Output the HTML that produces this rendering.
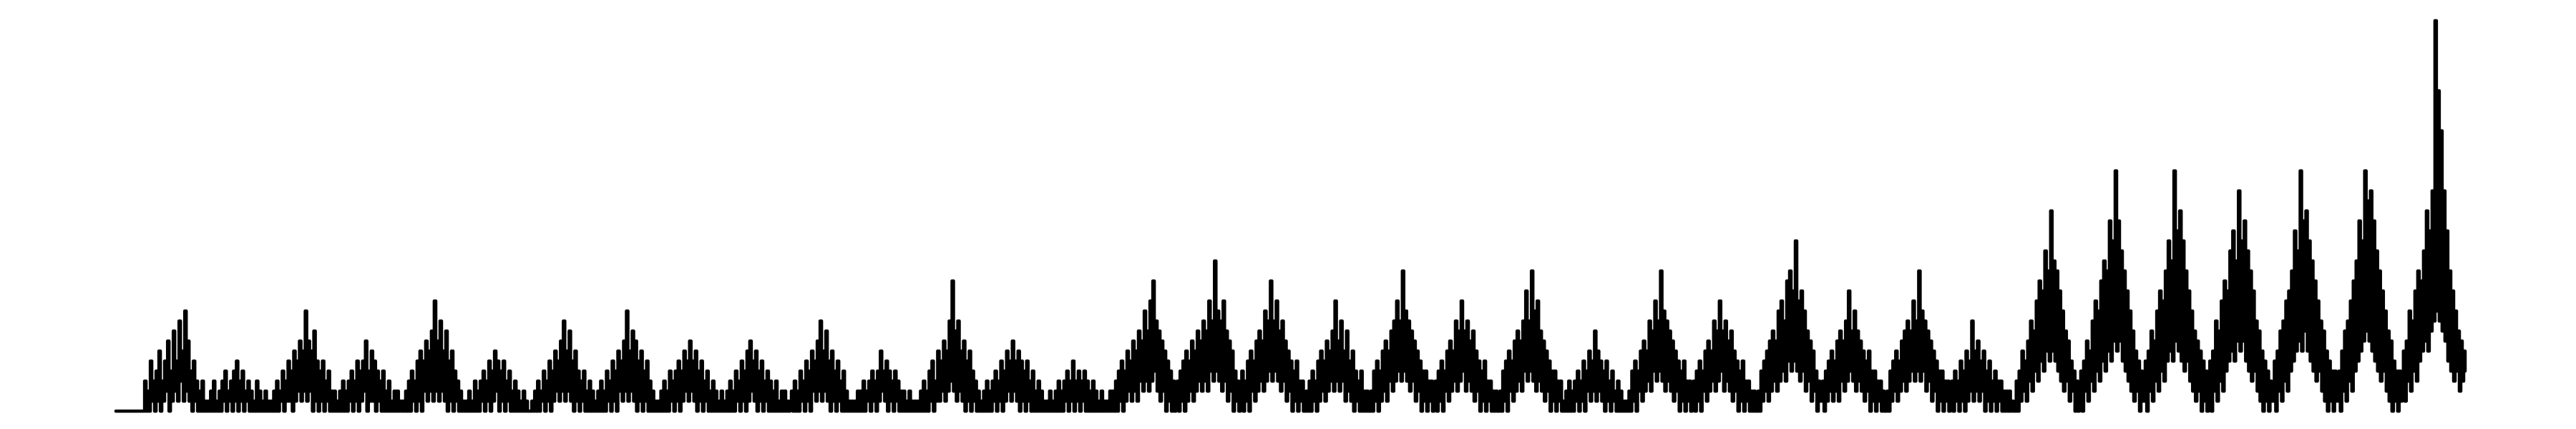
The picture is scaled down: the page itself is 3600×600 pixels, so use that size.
<!DOCTYPE html>
<html><head><meta charset="utf-8"><style>html,body{margin:0;padding:0;background:#fff}svg{display:block}</style></head>
<body>
<svg id="chart" width="3600" height="600" viewBox="0 0 3600 600" xmlns="http://www.w3.org/2000/svg">
<rect x="0" y="0" width="3600" height="600" fill="#fff"/>
<g id="plot"></g>
</svg>
<script>
const leadIn = [0,0,0,0,0,0,0,0,0,0,0,0,0,0,0,0,0,0,0];
const counts = [
0,3,0,2,0,5,1,3,0,4,1,6,0,3,1,5,2,7,0,4,1,8,2,5,1,9,3,6,1,10,2,7,1,4,0,5,1,3,0,2,0,3,0,1,0,
1,0,2,0,3,0,1,0,2,0,3,1,4,0,2,1,3,0,4,1,5,0,3,1,4,0,2,1,3,0,2,0,1,0,3,0,2,0,1,0,2,0,1,0,1,
0,2,0,3,0,2,1,4,0,3,1,5,1,4,0,6,1,5,2,7,1,6,2,10,1,7,2,6,0,8,1,5,0,4,1,5,0,3,1,4,0,2,0,2,0,
1,0,2,0,3,0,2,0,3,1,4,0,3,1,5,0,4,1,5,2,7,0,4,1,6,1,5,0,4,1,3,0,4,0,2,0,3,0,1,0,2,0,2,0,1,
0,1,0,2,0,3,0,4,1,3,0,5,1,6,0,5,2,7,1,6,2,8,1,11,2,7,1,9,2,6,1,8,0,5,1,6,0,4,1,3,0,2,0,1,0,
1,0,2,0,1,0,3,0,2,0,3,1,4,0,3,1,5,0,4,1,6,2,5,0,4,1,5,0,3,1,4,0,2,0,3,0,2,0,1,0,2,0,1,0,0,
0,1,0,2,0,3,0,2,1,4,0,3,1,5,0,4,1,6,2,5,1,7,2,9,1,6,2,8,1,5,0,6,1,4,0,3,1,4,0,2,0,3,0,2,0,
1,0,2,0,3,0,2,0,4,1,3,0,5,1,4,0,6,2,5,1,7,2,10,1,6,2,8,1,7,0,5,1,6,0,4,1,5,0,3,0,2,0,1,0,1,
0,2,0,3,0,2,0,4,1,3,0,4,1,5,0,4,1,6,2,5,1,7,2,5,1,6,0,4,1,5,0,3,1,4,0,2,0,3,0,2,0,1,0,2,0,
1,0,2,0,3,0,2,0,4,1,3,0,5,1,4,0,6,1,7,2,5,1,6,0,4,1,5,0,3,1,4,0,3,0,2,0,3,0,1,0,2,0,2,0,1,
0,1,2,0,3,0,2,0,4,1,3,0,5,1,4,0,6,2,5,1,7,2,9,1,6,2,8,1,5,0,6,1,4,0,5,1,3,0,4,0,2,0,1,0,1,
0,1,0,2,0,2,0,3,0,2,1,3,0,4,1,3,0,4,1,6,2,4,1,5,0,4,1,3,0,4,1,3,0,2,0,2,0,1,0,2,0,1,0,1,0,
1,0,2,0,3,0,2,0,4,1,5,0,3,1,6,1,5,2,7,1,6,2,9,3,13,2,8,1,9,2,6,1,7,0,5,1,6,0,4,1,3,0,2,0,1,
0,2,0,3,0,2,0,3,1,4,0,3,1,5,0,4,1,6,2,5,1,7,2,5,1,6,0,5,1,4,0,5,1,3,0,4,0,2,0,3,0,2,0,1,0,
1,0,2,0,1,0,2,0,3,0,2,0,3,1,4,0,3,1,5,0,3,1,4,0,3,1,4,0,3,0,2,0,3,0,2,0,1,0,2,0,1,0,1,0,2,
0,2,0,3,0,4,1,5,0,4,1,6,2,5,1,7,2,6,1,8,3,7,2,10,3,8,2,11,3,13,4,9,2,8,1,7,2,6,0,5,1,4,0,3,0,
1,3,0,4,1,5,0,6,1,5,2,7,1,6,2,8,3,7,2,9,3,8,2,11,4,9,3,15,4,10,3,9,2,11,3,8,1,7,2,6,0,4,1,3,0,
2,4,0,3,1,5,0,6,2,5,1,7,2,8,3,7,2,10,3,9,4,13,3,9,4,11,3,8,2,9,3,7,1,6,2,5,0,4,1,5,0,3,1,3,0,
0,2,0,3,0,4,1,3,0,5,1,6,2,5,1,7,2,6,3,8,2,11,3,7,2,9,3,6,1,8,2,5,1,6,0,4,1,3,0,4,0,2,0,2,0,
0,2,0,4,1,5,0,4,1,6,2,7,1,6,3,8,2,9,3,11,4,9,3,14,4,10,3,9,2,8,3,7,1,6,2,5,0,4,1,4,0,3,1,3,0,
1,3,0,4,1,5,0,4,2,6,1,7,2,6,3,9,2,8,3,11,4,8,2,9,3,7,2,8,1,6,2,5,0,4,1,5,0,3,1,3,0,2,0,2,0,
0,2,0,4,1,5,0,6,2,5,1,7,2,8,3,7,2,9,4,12,3,9,4,14,3,10,2,11,3,8,2,7,1,6,2,5,0,4,1,4,0,3,1,3,0,
1,0,2,0,3,0,2,0,3,1,4,0,3,1,5,0,4,2,6,1,5,2,8,1,6,2,5,1,4,0,5,1,3,0,4,1,2,0,3,0,2,0,1,0,1,
0,2,0,4,1,5,0,4,2,6,1,7,2,6,3,9,2,8,4,11,3,9,4,14,3,10,2,9,3,8,2,7,1,6,2,5,0,4,1,5,0,3,1,3,0,
1,3,0,4,1,5,0,4,2,6,1,7,2,6,3,9,2,8,3,11,4,8,2,9,3,7,2,8,1,6,2,5,0,4,1,5,0,3,1,3,0,2,0,2,0,
0,2,0,4,1,5,2,6,1,7,2,8,3,7,2,10,3,11,4,9,3,13,5,14,4,12,5,17,4,11,3,12,4,10,2,8,3,7,1,6,2,4,0,3,1,
1,3,0,4,1,5,2,6,1,5,2,7,1,8,3,7,2,9,3,12,4,8,3,10,2,8,3,7,2,6,1,5,2,6,0,4,1,4,0,3,1,3,0,2,0,
0,2,0,4,1,5,2,6,1,5,2,7,3,8,2,9,3,8,4,11,3,9,4,14,3,10,4,9,2,8,3,7,1,6,2,5,0,4,1,4,0,3,1,3,0,
1,3,0,4,1,3,0,5,1,4,0,6,1,5,2,9,1,6,2,7,1,5,2,6,0,4,1,5,0,3,1,4,0,3,1,3,0,2,0,2,0,2,0,1,0,
0,3,0,4,1,6,2,5,1,7,3,9,2,8,4,11,3,13,5,12,4,16,6,14,5,20,6,15,5,14,4,12,3,10,2,8,3,7,1,5,2,4,0,3,0,
1,4,0,5,2,7,1,6,3,9,2,11,4,10,3,13,5,15,4,14,6,19,5,17,7,24,6,19,7,16,5,14,4,12,3,10,2,8,1,6,2,5,0,4,1,
1,5,0,6,2,8,1,7,3,10,2,12,4,11,3,14,5,17,6,15,5,24,7,18,6,20,5,17,4,14,5,12,3,10,2,8,1,7,2,6,0,5,1,4,0,
1,5,0,6,2,9,1,8,3,11,2,13,4,12,5,16,6,18,5,15,7,22,6,17,7,19,5,16,4,14,3,12,4,9,2,8,1,6,0,5,1,4,0,3,1,
1,5,0,6,2,8,1,9,3,11,2,12,4,14,5,18,6,16,7,24,6,19,8,20,6,17,5,15,4,13,3,11,4,9,2,8,1,6,0,5,1,4,0,4,1,
1,4,0,6,2,8,1,9,3,11,2,13,4,15,5,19,6,17,7,24,8,21,7,22,6,19,5,16,4,14,3,12,4,10,2,8,1,7,0,5,1,4,0,4,1,
2,6,1,7,3,10,2,9,4,12,3,14,5,13,6,16,7,20,6,18,8,22,9,39,10,32,9,28,8,22,7,18,5,14,4,12,3,10,4,8,2,7,3,6,4
];
const values = leadIn.concat(counts);
const X0 = 162, X1 = 3445, Y0 = 575, unit = 14.0;
function xScale(i){ return X0 + (X1 - X0) * i / (values.length - 1); }
function yScale(v){ return Y0 - v * unit; }
let pts = [];
for (let i = 0; i < values.length; i++) {
  const x = xScale(i), y = yScale(values[i]);
  if (i > 0) pts.push(x.toFixed(1) + ',' + yScale(values[i-1]).toFixed(1));
  pts.push(x.toFixed(1) + ',' + y.toFixed(1));
}
const line = document.createElementNS('http://www.w3.org/2000/svg', 'polyline');


line.setAttribute('points', pts.join(' '));
line.setAttribute('fill', 'none');
line.setAttribute('stroke', '#000');
line.setAttribute('stroke-width', '4.5');
line.setAttribute('stroke-linejoin', 'round');
line.setAttribute('stroke-linecap', 'round');
document.getElementById('plot').appendChild(line);
</script>
</body></html>
